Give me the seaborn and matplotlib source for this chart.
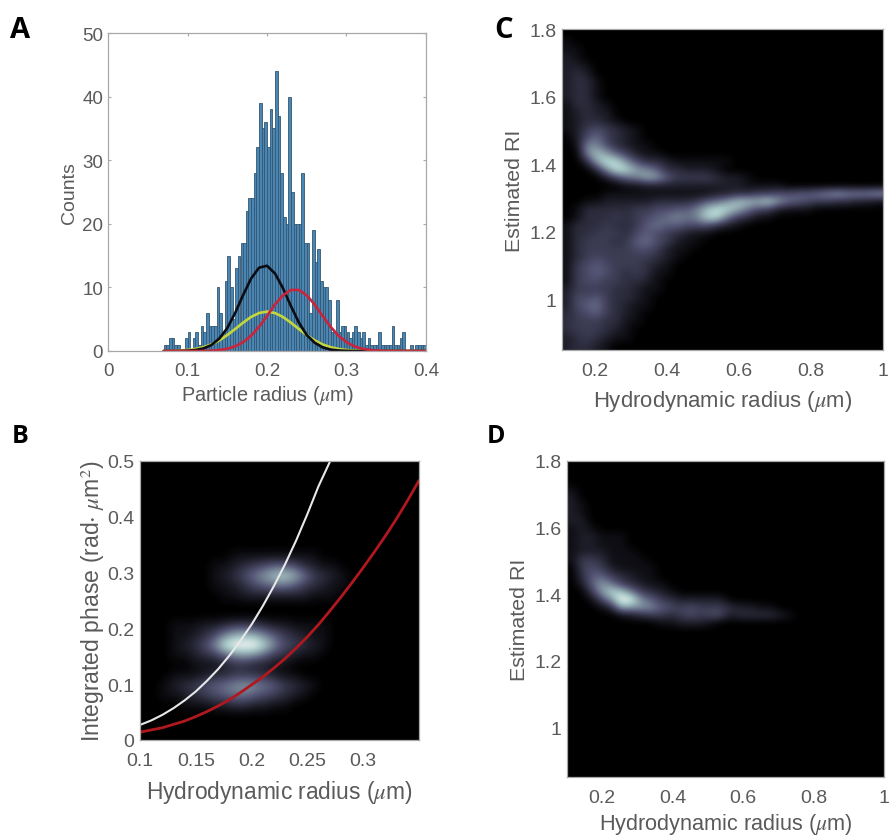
import numpy as np
import matplotlib
matplotlib.use('Agg')
import matplotlib.pyplot as plt
import seaborn as sns

# %%
# Panel A: histogram counts, 99 bins between 0.07 and 0.4
bin_lo = 0.07
bin_hi = 0.4
counts = [1, 1, 2, 2, 1, 1, 0, 0, 2, 3,
          0, 2, 3, 1, 4, 3, 6, 4, 4, 4,
          10, 6, 3, 11, 15, 10, 5, 13, 15, 17,
          17, 22, 24, 24, 28, 32, 39, 35, 36, 32,
          38, 35, 44, 37, 28, 21, 20, 40, 25, 20,
          20, 20, 28, 17, 17, 6, 19, 14, 16, 11,
          10, 10, 8, 3, 3, 8, 3, 4, 4, 3,
          2, 3, 4, 3, 2, 3, 1, 2, 1, 1,
          1, 3, 1, 1, 1, 1, 4, 1, 1, 2,
          3, 0, 0, 1, 0, 1, 1, 1, 1]

# fitted curves
fit_x = [0.07, 0.08, 0.09, 0.10, 0.11, 0.12, 0.13, 0.14, 0.15, 0.16, 0.17, 0.18,
         0.19, 0.20, 0.21, 0.22, 0.23, 0.24, 0.25, 0.26, 0.27, 0.28, 0.29, 0.30,
         0.31, 0.32, 0.33, 0.34, 0.35, 0.36, 0.37, 0.38, 0.39, 0.40]
fit_black = [0, 0, 0.01, 0.05, 0.15, 0.40, 0.93, 1.96, 3.6, 6.0, 8.8, 11.4,
             13.1, 13.4, 12.2, 9.9, 7.1, 4.5, 2.5, 1.3, 0.57, 0.22, 0.08, 0.02,
             0, 0, 0, 0, 0, 0, 0, 0, 0, 0]
fit_yellow = [0, 0, 0.08, 0.16, 0.32, 0.6, 1.03, 1.67, 2.5, 3.46, 4.46, 5.36,
              5.97, 6.2, 5.97, 5.36, 4.46, 3.46, 2.5, 1.67, 1.03, 0.6, 0.32, 0.16,
              0.08, 0.03, 0, 0, 0, 0, 0, 0, 0, 0]
fit_red = [0, 0, 0, 0, 0, 0, 0.06, 0.15, 0.35, 0.73, 1.4, 2.4,
           3.8, 5.5, 7.3, 8.75, 9.6, 9.6, 8.75, 7.3, 5.5, 3.8, 2.4, 1.4,
           0.73, 0.35, 0.15, 0.06, 0.02, 0, 0, 0, 0, 0]

# %%
# Panel B: curves and image. Image rows go top to bottom, one hex digit per cell
curve_x = [0.10, 0.11, 0.12, 0.13, 0.14, 0.15, 0.16, 0.17, 0.18, 0.19, 0.20, 0.21, 0.22,
           0.23, 0.24, 0.25, 0.26, 0.27, 0.28, 0.29, 0.30, 0.31, 0.32, 0.33, 0.34, 0.35]
curve_red = [0.014, 0.018, 0.022, 0.028, 0.034, 0.042, 0.051, 0.061, 0.072, 0.085, 0.099,
             0.113, 0.129, 0.146, 0.165, 0.185, 0.207, 0.231, 0.256, 0.282, 0.309, 0.337,
             0.366, 0.397, 0.430, 0.465]
curve_white = [0.027, 0.035, 0.045, 0.057, 0.071, 0.087, 0.106, 0.127, 0.151, 0.178, 0.207,
               0.240, 0.276, 0.315, 0.358, 0.405, 0.455, 0.498, 0.55]

image_b = ['', '', '', '', '', '', '', '', '',
           '000000000111111111',
           '00000001123456653211',
           '0000000123579bca74321',
           '000000011235677643211',
           '00000000112222222111',
           '', '',
           '0001112234443221111',
           '000112358aba8643211',
           '00012358dfffc854321',
           '000112346898643211',
           '000001112332211',
           '00011123344432 11'.replace(' ', ''),
           '001234567898764321',
           '00112345677654321',
           '000011122332211',
           '', '', '']

# %%
# Panel C image
image_c = ['',
           '1',
           '11',
           '21',
           '221',
           '232',
           '2331',
           '23310',
           '2331',
           '13321',
           '12322',
           '12332100',
           '12454321',
           '02574321',
           '01885321100',
           '008b96421100',
           '003adc85332111111',
           '00039dc986332221',
           '00002578a9644443221',
           '0000001122222222221111',
           '00001111111111122334455667898889',
           '00112222233334679bbac97654433221',
           '01333334455668bdca7542111',
           '01333434567878cc74311',
           '133343346766555321',
           '133444356543211',
           '13444346754211',
           '1344444554211',
           '134544444321',
           '14565444321',
           '14565434311',
           '1455443321',
           '2444433211',
           '255643321',
           '256743211',
           '34564321',
           '34443311',
           '3444321',
           '2343211',
           '23321']

# Panel D image
image_d = ['', '', '',
           '1',
           '2',
           '21',
           '21',
           '22',
           '121',
           '122111',
           '122111',
           '1222111',
           '14431111',
           '045421111',
           '036643211',
           '0269743211',
           '0049cb74321',
           '00159fe864322222',
           '00013a998654544432211',
           '00000123443454552333321',
           '000000000112221',
           '', '', '', '', '', '', '', '', '', '', '', '', '', '', '', '', '', '', '']

# %%
# tick labels
ticks_a_x = [0, 0.1, 0.2, 0.3, 0.4]
ticks_a_y = [0, 10, 20, 30, 40, 50]
ticks_b_x = [0.1, 0.15, 0.2, 0.25, 0.3]
ticks_b_y = [0, 0.1, 0.2, 0.3, 0.4, 0.5]
ticks_ri_x = [0.2, 0.4, 0.6, 0.8, 1]
ticks_ri_y = [1, 1.2, 1.4, 1.6, 1.8]


def decode(rows, ncols):
    # rows are typed as hex strings, short rows are padded with zeros
    return np.array([[int(c, 16) / 15 for c in r.ljust(ncols, '0')[:ncols]] for r in rows])


def fmt(v):
    return '%g' % v


W, H = 889, 837

sns.set_theme(style='white')
plt.rcParams['font.family'] = ['Liberation Sans', 'DejaVu Sans']
plt.rcParams['mathtext.fontset'] = 'stix'
GREY = '#5a5a5a'
EDGE = '#a8a8a8'


def make_axes(left, right, top, bottom):
    return fig.add_axes([left / W, 1 - bottom / H, (right - left) / W, (bottom - top) / H])


def style_axes(ax, xt, yt, xlabel, ylabel, tick_size, xsize, ysize, xpad, ypad, xlpad, ylpad):
    ax.set_xticks(xt)
    ax.set_xticklabels([fmt(v) for v in xt])
    ax.set_yticks(yt)
    ax.set_yticklabels([fmt(v) for v in yt])
    ax.tick_params(axis='x', labelsize=tick_size, colors=GREY, pad=xpad, length=0)
    ax.tick_params(axis='y', labelsize=tick_size, colors=GREY, pad=ypad, length=0)
    ax.set_xlabel(xlabel, fontsize=xsize, color=GREY, labelpad=xlpad)
    ax.set_ylabel(ylabel, fontsize=ysize, color=GREY, labelpad=ylpad)
    for s in ax.spines.values():
        s.set_visible(True)
        s.set_color(EDGE)
        s.set_linewidth(0.9)


def show_image(ax, rows, ncols, extent):
    ax.imshow(decode(rows, ncols), cmap='bone', vmin=0, vmax=1, aspect='auto',
              extent=extent, interpolation='bicubic')


fig = plt.figure(figsize=(W / 100, H / 100), dpi=100)

# %%
# A
ax_a = make_axes(108, 426, 34, 352)
edges = np.linspace(bin_lo, bin_hi, len(counts) + 1)
centers = (edges[:-1] + edges[1:]) / 2
sns.histplot(x=centers, weights=counts, bins=edges.tolist(), color='#4a86b4', edgecolor='#34566f',
             linewidth=0.6, alpha=1, ax=ax_a)
sns.lineplot(x=fit_x, y=fit_yellow, color='#c3d63c', lw=1.9, ax=ax_a)
sns.lineplot(x=fit_x, y=fit_black, color='#0c0c14', lw=1.9, ax=ax_a)
sns.lineplot(x=fit_x, y=fit_red, color='#c8243c', lw=1.9, ax=ax_a)
ax_a.set_xlim(0, 0.4)
ax_a.set_ylim(0, 50)
style_axes(ax_a, ticks_a_x, ticks_a_y, r'Particle radius ($\mu$m)', 'Counts',
           13.5, 14.3, 14, 8, 3.5, 3, 3)
ax_a.tick_params(axis='both', direction='in', length=2.5, width=0.8, color=EDGE,
                 top=True, right=True, bottom=True, left=True)

# %%
# B
ax_b = make_axes(140, 419, 462, 741)
show_image(ax_b, image_b, 28, [0.1, 0.35, 0, 0.5])
sns.lineplot(x=curve_x[:len(curve_white)], y=curve_white, color='#e8e8e8', lw=1.5, ax=ax_b)
sns.lineplot(x=curve_x, y=curve_red, color='#b0181e', lw=2, ax=ax_b)
ax_b.set_xlim(0.1, 0.35)
ax_b.set_ylim(0, 0.5)
style_axes(ax_b, ticks_b_x, ticks_b_y, r'Hydrodynamic radius ($\mu$m)',
           r'Integrated phase (rad$\cdot$ $\mu$m$^2$)', 14, 16.4, 16.6, 9, 4, 6, 0)

# %%
# C
ax_c = make_axes(562, 883, 30, 351)
show_image(ax_c, image_c, 32, [0.11, 1.0, 0.85, 1.8])
ax_c.set_xlim(0.11, 1.0)
ax_c.set_ylim(0.85, 1.8)
style_axes(ax_c, ticks_ri_x, ticks_ri_y, r'Hydrodynamic radius ($\mu$m)', 'Estimated RI',
           14, 15.9, 15.4, 9, 4, 6, 4)

# %%
# D
ax_d = make_axes(567, 884, 462, 778)
show_image(ax_d, image_d, 32, [0.1, 1.0, 0.85, 1.8])
ax_d.set_xlim(0.1, 1.0)
ax_d.set_ylim(0.85, 1.8)
style_axes(ax_d, ticks_ri_x, ticks_ri_y, r'Hydrodynamic radius ($\mu$m)', 'Estimated RI',
           14, 15.6, 15.4, 9, 4, 3, 4)

# %%
# panel letters
fig.text(10 / W, 1 - 38 / H, 'A', fontsize=21, fontweight='bold', family='Open Sans', color='black')
fig.text(494 / W, 1 - 38 / H, 'C', fontsize=21, fontweight='bold', family='Open Sans', color='black')
fig.text(12 / W, 1 - 443 / H, 'B', fontsize=18, fontweight='bold', family='Open Sans', color='black')
fig.text(487 / W, 1 - 443 / H, 'D', fontsize=18, fontweight='bold', family='Open Sans', color='black')

fig.savefig('out.png', dpi=100)
